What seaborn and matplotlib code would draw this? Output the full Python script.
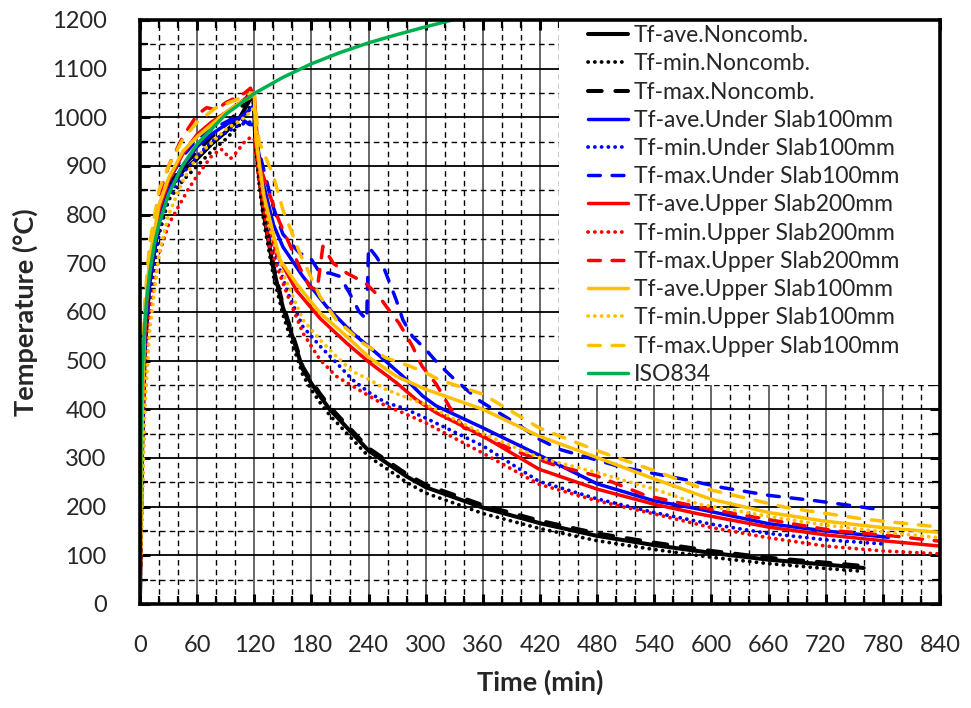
import numpy as np
import pandas as pd
import matplotlib
matplotlib.use("Agg")
import matplotlib.pyplot as plt
from matplotlib.patches import Rectangle
import seaborn as sns

# ---------------- data ----------------
labels = [
    "Tf-ave.Noncomb.", "Tf-min.Noncomb.", "Tf-max.Noncomb.",
    "Tf-ave.Under Slab100mm", "Tf-min.Under Slab100mm", "Tf-max.Under Slab100mm",
    "Tf-ave.Upper Slab200mm", "Tf-min.Upper Slab200mm", "Tf-max.Upper Slab200mm",
    "Tf-ave.Upper Slab100mm", "Tf-min.Upper Slab100mm", "Tf-max.Upper Slab100mm",
    "ISO834",
]

# Noncombustible
t_nc = [0, 2, 5, 10, 20, 30, 45, 60, 75, 90, 105, 115, 119, 121, 125, 130, 140, 150, 160, 171, 180, 189, 200, 206,
        240, 280, 300, 360, 420, 480, 540, 600, 660, 720, 760]
T_nc_ave = [20, 300, 520, 660, 790, 850, 890, 915, 945, 970, 1000, 1035, 1045, 960, 880, 800, 690, 610, 550, 482, 453,
            427, 398, 386, 315, 262, 240, 198, 166, 140, 121, 105, 91, 81, 74]
T_nc_min = [20, 250, 480, 630, 760, 830, 870, 900, 930, 955, 985, 1020, 1030, 950, 865, 785, 675, 595, 535, 470, 440,
            414, 386, 374, 303, 250, 228, 186, 155, 130, 112, 96, 83, 73, 67]
T_nc_max = [20, 330, 540, 680, 805, 860, 900, 930, 960, 985, 1015, 1050, 1058, 965, 885, 805, 695, 615, 555, 487, 458,
            432, 404, 391, 320, 267, 245, 203, 171, 145, 126, 109, 95, 85, 78]

# Under slab 100 mm
t_us_ave = [0, 2, 5, 10, 20, 30, 45, 60, 75, 90, 105, 115, 120, 122, 130, 140, 150, 171, 196, 223, 248, 276, 297, 311,
            360, 420, 480, 540, 587, 660, 720, 786]
T_us_ave = [20, 320, 530, 670, 790, 850, 900, 940, 965, 985, 1000, 1015, 1025, 960, 860, 780, 734, 673, 611, 557, 516,
            468, 427, 407, 362, 305, 247, 212, 195, 165, 150, 137]
t_us_min = [0, 2, 5, 10, 20, 30, 45, 60, 75, 90, 105, 115, 120, 123, 130, 140, 155, 171, 189, 206, 223, 241, 258, 276,
            300, 360, 419, 480, 540, 600, 660, 720, 783]
T_us_min = [20, 260, 480, 640, 770, 835, 885, 920, 950, 968, 985, 990, 990, 930, 830, 730, 640, 570, 530, 496, 461, 434,
            414, 403, 382, 325, 252, 216, 188, 164, 145, 132, 123]
t_us_max = [0, 2, 5, 10, 20, 30, 45, 60, 75, 90, 100, 108, 115, 120, 125, 140, 150, 168, 178, 189, 199, 210, 220, 230,
            238, 240, 248, 257, 269, 276, 286, 300, 312, 330, 357, 399, 419, 440, 506, 569, 612, 661, 710, 755, 780]
T_us_max = [20, 340, 560, 700, 810, 870, 920, 955, 975, 990, 1000, 995, 985, 985, 930, 815, 760, 720, 714, 680, 680,
            673, 639, 601, 584, 734, 714, 686, 625, 584, 550, 523, 496, 462, 417, 366, 339, 318, 281, 257, 239, 223,
            212, 200, 193]

# Upper slab 200 mm
t_u2_ave = [0, 2, 5, 10, 20, 30, 45, 60, 75, 90, 105, 115, 120, 122, 130, 143, 164, 189, 217, 241, 269, 290, 311, 360,
            419, 480, 540, 587, 660, 720, 780, 840]
T_u2_ave = [20, 350, 560, 700, 810, 870, 925, 965, 990, 1010, 1030, 1045, 1050, 940, 830, 720, 645, 587, 536, 496, 455,
            420, 393, 345, 277, 236, 205, 185, 158, 142, 130, 119]
t_u2_min = [0, 2, 5, 10, 20, 30, 40, 50, 60, 75, 85, 95, 100, 110, 117, 120, 125, 136, 154, 171, 189, 206, 223, 241,
            258, 276, 300, 360, 419, 480, 540, 600, 660, 720, 780, 840]
T_u2_min = [20, 200, 420, 590, 720, 780, 815, 850, 880, 920, 935, 915, 925, 950, 960, 955, 870, 734, 639, 557, 502, 468,
            448, 427, 407, 393, 372, 310, 246, 212, 185, 157, 136, 119, 109, 103]
t_u2_max = [0, 2, 5, 10, 20, 30, 45, 60, 70, 80, 90, 100, 110, 116, 120, 125, 136, 146, 157, 168, 178, 186, 192, 203,
            217, 237, 251, 261, 272, 286, 296, 311, 325, 340, 375, 400, 436, 480, 531, 587, 658, 727, 790, 840]
T_u2_max = [20, 400, 600, 730, 840, 900, 960, 1005, 1020, 1015, 1030, 1040, 1050, 1060, 1040, 905, 842, 787, 739, 690,
            652, 645, 735, 700, 680, 659, 632, 605, 577, 530, 489, 452, 405, 362, 331, 310, 285, 263, 223, 199, 174,
            151, 140, 129]

# Upper slab 100 mm
t_u1_ave = [0, 2, 5, 10, 20, 30, 45, 60, 75, 90, 105, 115, 120, 122, 130, 140, 147, 164, 189, 217, 241, 269, 300, 360,
            419, 480, 540, 600, 660, 720, 780, 840]
T_u1_ave = [20, 380, 580, 710, 820, 875, 930, 960, 985, 1010, 1030, 1040, 1050, 950, 840, 760, 707, 659, 598, 550, 506,
            468, 441, 400, 345, 301, 257, 215, 188, 170, 157, 147]
t_u1_min = [0, 2, 5, 10, 20, 30, 45, 60, 90, 110, 120, 125, 135, 150, 171, 189, 206, 223, 241, 258, 276, 300, 360, 419,
            480, 540, 587, 660, 720, 780, 840]
T_u1_min = [20, 200, 400, 560, 720, 800, 870, 920, 975, 1000, 1020, 900, 780, 680, 584, 543, 509, 478, 461, 441, 427,
            410, 350, 301, 270, 236, 205, 180, 162, 148, 136]
t_u1_max = [0, 2, 5, 10, 20, 30, 45, 60, 80, 100, 117, 120, 125, 140, 150, 168, 189, 206, 234, 258, 283, 300, 314, 360,
            419, 480, 540, 587, 679, 762, 840]
T_u1_max = [20, 420, 620, 740, 850, 900, 955, 990, 1020, 1035, 1050, 1045, 950, 880, 810, 720, 632, 584, 536, 506, 489,
            475, 461, 431, 362, 315, 274, 240, 198, 174, 158]

# ISO 834 standard fire curve (values read at sample times)
t_iso = [0, 1, 2, 3, 5, 7, 10, 15, 20, 30, 45, 60, 90, 120, 150, 180, 210, 240, 270, 300, 330, 345]
T_iso = [20, 349, 445, 502, 576, 626, 678, 739, 781, 842, 902, 945, 1006, 1049, 1082, 1110, 1133, 1153, 1170, 1186,
         1201, 1207]

x_ticks = list(range(0, 841, 60))
y_ticks = list(range(0, 1201, 100))

series = [
    (t_nc, T_nc_ave), (t_nc, T_nc_min), (t_nc, T_nc_max),
    (t_us_ave, T_us_ave), (t_us_min, T_us_min), (t_us_max, T_us_max),
    (t_u2_ave, T_u2_ave), (t_u2_min, T_u2_min), (t_u2_max, T_u2_max),
    (t_u1_ave, T_u1_ave), (t_u1_min, T_u1_min), (t_u1_max, T_u1_max),
    (t_iso, T_iso),
]

# ---------------- style ----------------
sns.set_theme(style="white")
plt.rcParams["font.family"] = ["Lato", "DejaVu Sans"]

colors = ["black"] * 3 + ["#0000FF"] * 3 + ["#FF0000"] * 3 + ["#FFC000"] * 3 + ["#00B050"]
kinds = ["solid", "dot", "dash"] * 4 + ["solid"]
style_map = {
    "solid": dict(linestyle="-", dash_capstyle="round", solid_capstyle="round"),
    "dot": dict(linestyle=(0, (0.05, 1.75)), dash_capstyle="round"),
    "dash": dict(linestyle=(0, (3.4, 3.4)), dash_capstyle="round"),
}

fig = plt.figure(figsize=(9.71, 7.08), dpi=100)
ax = fig.add_axes([0.1442, 0.1469, 0.8238, 0.8249])
ax.set_axisbelow(True)

for (tt, TT), lab, c, k in zip(series, labels, colors, kinds):
    df = pd.DataFrame({"Time": tt, "Temp": TT})
    if k == "dot":
        lw = 2.7
    elif c == "black":
        lw = 2.9
    else:
        lw = 2.5
    sns.lineplot(data=df, x="Time", y="Temp", ax=ax, color=c, lw=lw, estimator=None,
                 sort=False, label=lab, legend=False, **style_map[k])

ax.set_xlim(0, 840)
ax.set_ylim(0, 1200)
ax.set_xticks(x_ticks)
ax.set_xticks(range(0, 841, 20), minor=True)
ax.set_yticks(y_ticks)
ax.set_yticks(range(0, 1201, 50), minor=True)

ax.xaxis.grid(True, which="major", color="#5a5a5a", lw=1.3, ls="-")
ax.yaxis.grid(True, which="major", color="black", lw=1.3, ls="-")
ax.grid(True, which="minor", color="black", lw=1.0, ls=(0, (4, 3)))

for s in ax.spines.values():
    s.set_visible(True)
    s.set_color("black")
    s.set_linewidth(2.6)

ax.tick_params(which="both", direction="in", top=True, right=True, bottom=True, left=True,
               color="black")
ax.tick_params(which="major", length=7, width=2.2)
ax.tick_params(which="minor", length=6, width=1.6)
ax.tick_params(axis="x", which="major", labelsize=17, pad=22)
ax.tick_params(axis="y", which="major", labelsize=17, pad=24)

ax.set_xlabel("Time (min)", fontsize=19.5, fontweight="bold", labelpad=10)
ax.set_ylabel("Temperature (°C)", fontsize=19.5, fontweight="bold", labelpad=10)

# white box behind the legend
ax.add_patch(Rectangle((0.524, 0.375), 0.476, 0.625, transform=ax.transAxes,
                       facecolor="white", edgecolor="none", zorder=1))

handles, labs = ax.get_legend_handles_labels()
leg = ax.legend(handles, labs, loc="upper left", bbox_to_anchor=(0.557, 0.995),
                frameon=False, fontsize=16.5, labelspacing=0.315, handlelength=1.75,
                handletextpad=0.25, borderpad=0.1, borderaxespad=0.0)

fig.savefig("out.png", dpi=100)
